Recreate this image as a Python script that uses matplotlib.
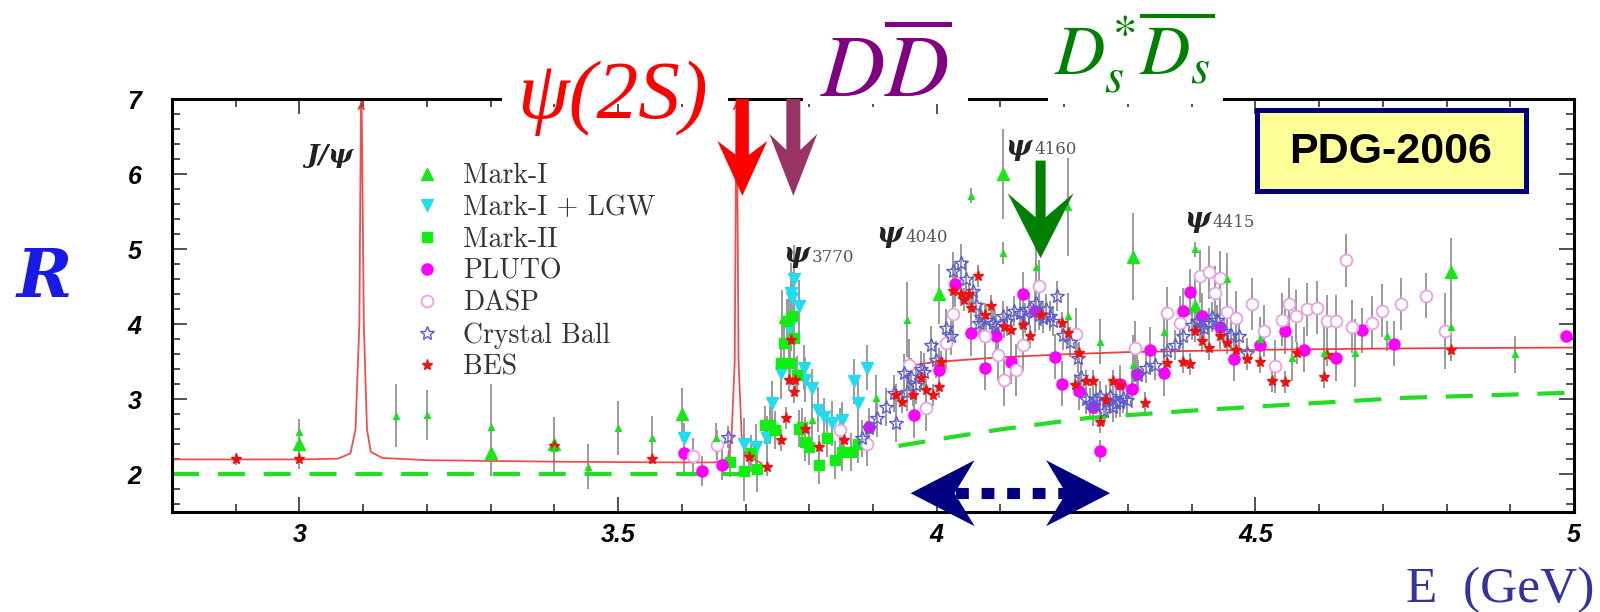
import matplotlib
matplotlib.use("Agg")
import matplotlib.pyplot as plt
from matplotlib.patches import Polygon, Rectangle
from matplotlib.lines import Line2D
from matplotlib.transforms import IdentityTransform
from matplotlib.ticker import MultipleLocator, FormatStrFormatter

plt.rcParams['mathtext.fontset'] = 'stix'

# ---- curves ----
bw_x = [2.80, 2.90, 3.00, 3.06, 3.08, 3.088, 3.094, 3.097, 3.101, 3.106, 3.112, 3.13, 3.20, 3.40,
        3.60, 3.650, 3.672, 3.678, 3.683, 3.686, 3.689, 3.694, 3.700, 3.725]
bw_y = [2.20, 2.20, 2.20, 2.21, 2.28, 2.60, 4.00, 7.50, 4.00, 2.60, 2.30, 2.22, 2.19, 2.17,
        2.16, 2.16, 2.20, 2.50, 3.50, 7.50, 3.50, 2.50, 2.25, 2.15]
cont_x = [3.95, 4.00, 4.10, 4.20, 4.30, 4.50, 4.75, 5.00]
cont_y = [3.44, 3.50, 3.56, 3.60, 3.63, 3.66, 3.68, 3.69]
qpm_x1 = [2.80, 3.72]
qpm_y1 = [2.00, 2.00]
qpm_x2 = [3.94, 4.025, 4.10, 4.235, 4.40, 4.592, 4.734, 5.00]
qpm_y2 = [2.38, 2.50, 2.60, 2.75, 2.85, 2.95, 3.02, 3.09]

# ---- data ----
mk1_x = [3.0, 3.3, 3.4, 3.6, 4.004, 4.104, 4.308, 4.406, 4.807]
mk1_y = [2.40, 2.28, 2.41, 2.80, 4.40, 6.00, 4.90, 4.25, 4.70]
mk1_e = [0.33, 0.30, 0.35, 0.35, 0.40, 0.60, 0.58, 0.35, 0.45]

oth_x = [3.0, 3.151, 3.2, 3.3, 3.4, 3.452, 3.5, 3.553, 3.653, 3.757, 3.805, 3.904, 3.954, 4.054,
         4.104, 4.156, 4.206, 4.206, 4.256, 4.308, 4.356, 4.406, 4.455, 4.508, 4.558, 4.607,
         4.656, 4.707, 4.807, 4.908]
oth_y = [2.56, 2.78, 2.79, 2.63, 2.35, 2.10, 2.62, 2.48, 2.48, 4.06, 2.72, 3.02, 4.06, 5.71,
         4.95, 4.76, 5.56, 4.11, 3.77, 3.46, 3.90, 5.00, 4.60, 3.80, 3.55, 3.62, 3.62, 3.85,
         3.96, 3.60]
oth_e = [0.18, 0.42, 0.33, 0.58, 0.35, 0.30, 0.36, 0.30, 0.20, 0.40, 0.30, 0.30, 0.50, 0.10,
         0.15, 0.30, 0.65, 0.30, 0.30, 0.40, 0.30, 0.10, 0.35, 0.30, 0.30, 0.40, 0.45, 0.20,
         0.45, 0.25]

lgw_x = [3.603, 3.697, 3.716, 3.734, 3.742, 3.755, 3.768, 3.771, 3.773, 3.776, 3.784, 3.792,
         3.794, 3.805, 3.813, 3.823, 3.836, 3.852, 3.870, 3.876, 3.891]
lgw_y = [2.48, 2.40, 2.37, 2.48, 2.95, 3.35, 3.95, 4.42, 4.35, 4.60, 4.24, 3.42, 3.26, 3.15,
         2.86, 2.77, 2.68, 2.72, 3.24, 2.95, 3.42]
lgw_e = [0.20, 0.35, 0.30, 0.30, 0.30, 0.35, 0.40, 0.40, 0.35, 0.45, 0.35, 0.30, 0.30, 0.25,
         0.30, 0.25, 0.30, 0.25, 0.30, 0.30, 0.30]

mk2_x = [3.676, 3.697, 3.708, 3.718, 3.731, 3.739, 3.747, 3.755, 3.760, 3.765, 3.770, 3.773,
         3.776, 3.781, 3.784, 3.789, 3.794, 3.799, 3.815, 3.828, 3.841, 3.852, 3.865, 3.876]
mk2_y = [2.17, 2.04, 2.28, 2.07, 2.66, 2.66, 2.59, 3.48, 3.75, 4.04, 3.48, 4.11, 3.82, 3.33,
         2.61, 2.63, 2.43, 2.37, 2.12, 2.48, 2.19, 2.30, 2.30, 2.40]
mk2_e = [0.20, 0.40, 0.25, 0.30, 0.25, 0.25, 0.25, 0.30, 0.30, 0.30, 0.30, 0.30, 0.30, 0.25,
         0.25, 0.25, 0.25, 0.25, 0.25, 0.25, 0.25, 0.25, 0.25, 0.25]

plu_x = [3.603, 3.631, 3.663, 3.894, 3.965, 4.004, 4.028, 4.054, 4.075, 4.093, 4.117, 4.135,
         4.154, 4.185, 4.196, 4.224, 4.245, 4.256, 4.287, 4.306, 4.314, 4.335, 4.356, 4.386,
         4.397, 4.416, 4.445, 4.467, 4.507, 4.546, 4.577, 4.627, 4.667, 4.718, 4.988]
plu_y = [2.28, 2.05, 2.12, 2.63, 2.79, 3.39, 4.53, 3.88, 3.42, 3.84, 3.50, 4.40, 4.18, 3.57,
         3.21, 3.11, 2.90, 2.31, 3.21, 3.14, 3.34, 3.66, 3.35, 4.18, 4.43, 4.11, 3.97, 3.54,
         3.73, 3.91, 3.66, 3.55, 3.92, 3.74, 3.85]
plu_e = [0.25, 0.20, 0.20, 0.25, 0.30, 0.30, 0.30, 0.30, 0.30, 0.30, 0.30, 0.30, 0.30, 0.30,
         0.30, 0.25, 0.25, 0.15, 0.25, 0.25, 0.25, 0.30, 0.30, 0.30, 0.30, 0.30, 0.30, 0.30,
         0.30, 0.30, 0.30, 0.30, 0.30, 0.30, 0.05]

das_x = [3.617, 3.655, 3.849, 3.891, 3.957, 3.983, 4.015, 4.025, 4.075, 4.096, 4.106, 4.125,
         4.135, 4.161, 4.219, 4.311, 4.361, 4.382, 4.413, 4.427, 4.437, 4.445, 4.455, 4.469,
         4.495, 4.513, 4.531, 4.542, 4.553, 4.563, 4.581, 4.597, 4.613, 4.627, 4.642, 4.652,
         4.683, 4.698, 4.728, 4.768, 4.798]
das_y = [2.24, 2.39, 2.59, 2.41, 3.46, 2.88, 3.75, 4.14, 3.84, 3.59, 3.26, 3.39, 3.73, 4.51,
         3.87, 3.69, 4.15, 4.02, 4.64, 4.69, 4.42, 4.62, 4.17, 4.09, 4.27, 3.91, 3.44, 4.06,
         4.27, 4.11, 4.20, 4.22, 4.04, 4.04, 4.85, 3.97, 4.02, 4.18, 4.27, 4.38, 3.91]
das_e = [0.25, 0.20, 0.30, 0.30, 0.35, 0.30, 0.35, 0.35, 0.35, 0.35, 0.35, 0.35, 0.35, 0.35,
         0.35, 0.35, 0.35, 0.35, 0.35, 0.35, 0.35, 0.35, 0.35, 0.35, 0.35, 0.35, 0.35, 0.35,
         0.35, 0.35, 0.35, 0.35, 0.35, 0.35, 0.35, 0.35, 0.35, 0.35, 0.35, 0.30, 0.50]

cb_x = [3.673, 3.883, 3.894, 3.907, 3.920, 3.933, 3.936, 3.949, 3.954, 3.960, 3.967, 3.975,
        3.980, 3.991, 3.999, 4.015, 4.023, 4.025, 4.038, 4.046, 4.057, 4.062, 4.067, 4.070,
        4.077, 4.088, 4.092, 4.104, 4.110, 4.122, 4.130, 4.138, 4.145, 4.156, 4.160, 4.167,
        4.172, 4.177, 4.182, 4.188, 4.198, 4.209, 4.222, 4.227, 4.235, 4.240, 4.245, 4.250,
        4.256, 4.262, 4.266, 4.272, 4.277, 4.282, 4.287, 4.293, 4.298, 4.316, 4.329, 4.343,
        4.361, 4.374, 4.387, 4.400, 4.408, 4.413, 4.420, 4.427, 4.432, 4.440, 4.450, 4.461,
        4.474, 4.487]
cb_y = [2.50, 2.48, 2.62, 2.75, 2.90, 3.08, 2.68, 3.35, 3.10, 3.30, 3.19, 3.40, 3.37, 3.73,
        3.53, 3.95, 3.84, 4.71, 4.82, 4.60, 4.44, 4.26, 4.02, 4.10, 4.06, 4.02, 3.98, 4.11,
        4.05, 4.18, 4.15, 4.09, 4.20, 4.29, 4.12, 4.09, 4.20, 4.11, 4.05, 4.38, 3.86, 3.77,
        3.55, 3.30, 3.01, 2.95, 2.92, 3.00, 3.04, 2.85, 2.99, 3.05, 2.90, 2.95, 2.97, 3.02,
        2.99, 3.33, 3.42, 3.46, 3.64, 3.73, 3.84, 3.99, 4.05, 3.97, 3.95, 4.02, 4.10, 4.06,
        3.91, 3.86, 3.84, 3.62]
cb_e = [0.15, 0.25, 0.25, 0.25, 0.25, 0.25, 0.25, 0.25, 0.25, 0.25, 0.25, 0.25, 0.25, 0.25,
        0.25, 0.25, 0.25, 0.25, 0.25, 0.25, 0.20, 0.20, 0.20, 0.20, 0.20, 0.20, 0.20, 0.20,
        0.20, 0.20, 0.20, 0.20, 0.20, 0.20, 0.20, 0.20, 0.20, 0.20, 0.20, 0.20, 0.20, 0.20,
        0.20, 0.20, 0.20, 0.20, 0.20, 0.20, 0.20, 0.20, 0.20, 0.20, 0.20, 0.20, 0.20, 0.20,
        0.20, 0.20, 0.20, 0.20, 0.20, 0.20, 0.20, 0.20, 0.20, 0.20, 0.20, 0.20, 0.20, 0.20,
        0.20, 0.20, 0.20, 0.20]

bes_x = [2.9, 3.0, 3.4, 3.553, 3.706, 3.733, 3.755, 3.763, 3.768, 3.771, 3.776, 3.778, 3.794,
         3.815, 3.855, 3.936, 3.946, 3.962, 3.975, 3.983, 3.994, 4.004, 4.007, 4.025, 4.038,
         4.043, 4.050, 4.054, 4.064, 4.075, 4.085, 4.106, 4.117, 4.135, 4.146, 4.164, 4.196,
         4.206, 4.217, 4.224, 4.235, 4.245, 4.256, 4.266, 4.277, 4.287, 4.327, 4.361, 4.387,
         4.398, 4.406, 4.416, 4.427, 4.445, 4.455, 4.469, 4.487, 4.507, 4.526, 4.546, 4.566,
         4.607, 4.612, 4.807]
bes_y = [2.20, 2.20, 2.38, 2.20, 2.23, 2.10, 2.46, 2.75, 3.26, 3.79, 3.10, 3.26, 2.61, 2.37,
         2.46, 3.06, 2.97, 3.06, 3.28, 3.12, 3.06, 3.17, 3.50, 4.44, 4.40, 4.33, 4.40, 4.22,
         4.64, 4.13, 4.24, 3.97, 3.93, 3.99, 3.84, 4.13, 4.02, 3.88, 3.19, 3.62, 3.24, 3.24,
         2.70, 2.99, 3.24, 3.19, 2.95, 3.48, 3.50, 3.47, 3.91, 3.78, 3.68, 3.84, 3.75, 3.66,
         3.54, 3.50, 3.25, 3.23, 3.62, 3.30, 3.59, 3.66]
bes_e = [0.08, 0.06, 0.10, 0.06, 0.12, 0.12, 0.15, 0.15, 0.15, 0.15, 0.15, 0.15, 0.15, 0.15,
         0.15, 0.15, 0.15, 0.15, 0.15, 0.15, 0.15, 0.15, 0.15, 0.15, 0.15, 0.15, 0.15, 0.15,
         0.15, 0.15, 0.15, 0.15, 0.15, 0.15, 0.15, 0.15, 0.15, 0.15, 0.15, 0.15, 0.15, 0.15,
         0.15, 0.15, 0.15, 0.15, 0.15, 0.15, 0.15, 0.15, 0.15, 0.15, 0.15, 0.15, 0.15, 0.15,
         0.15, 0.15, 0.15, 0.15, 0.15, 0.15, 0.15, 0.15]

res_names = ['3770', '4040', '4160', '4415']
res_x = [3.759, 3.905, 4.108, 4.388]
res_y = [4.93, 5.19, 6.36, 5.39]

xticks = [3, 3.5, 4, 4.5, 5]
yticks = [2, 3, 4, 5, 6, 7]

fig = plt.figure(figsize=(16, 6.12), dpi=100)
ax = fig.add_axes([0.1075, 0.1634, 0.87625, 0.6748])
ax.set_xlim(2.8, 5.0)
ax.set_ylim(1.5, 7.0)

ax.plot(bw_x, bw_y, color='#ee5050', lw=1.3, zorder=2)
ax.plot(cont_x, cont_y, color='#ee4040', lw=1.3, zorder=2)
for xs, ys in [(qpm_x1, qpm_y1), (qpm_x2, qpm_y2)]:
    ax.plot(xs, ys, color='#22dd22', lw=3, dashes=(6.5, 4.5), zorder=2)
for xp in [3.097, 3.686]:
    ax.annotate('', xy=(xp, 7.0), xytext=(xp, 6.85),
                arrowprops=dict(arrowstyle='->', color='#dd3030', lw=1.2), zorder=2)

series = [
    (mk1_x, mk1_y, mk1_e, dict(marker='^', color='#19e619', ms=8), 'Mark-I'),
    (lgw_x, lgw_y, lgw_e, dict(marker='v', color='#22dcee', ms=8), 'Mark-I + LGW'),
    (mk2_x, mk2_y, mk2_e, dict(marker='s', color='#11ee11', ms=7), 'Mark-II'),
    (plu_x, plu_y, plu_e, dict(marker='o', color='#ff00ff', ms=8), 'PLUTO'),
    (das_x, das_y, das_e, dict(marker='o', mfc='white', mec='#eaa0ea', mew=1.3, ms=8.5), 'DASP'),
    (cb_x, cb_y, cb_e, dict(marker='*', mfc='none', mec='#5a5ad8', mew=1.0, ms=10), 'Crystal Ball'),
    (bes_x, bes_y, bes_e, dict(marker='*', color='#ee1111', ms=8), 'BES'),
]
handles, labels = [], []
for xs, ys, es, st, name in series:
    ax.errorbar(xs, ys, yerr=es, fmt='none', ecolor='#9a9a9a', elinewidth=1.4, zorder=1)
    ax.plot(xs, ys, linestyle='none', zorder=3, **st)
    handles.append(Line2D([], [], linestyle='none', **st))
    labels.append(name)
ax.errorbar(oth_x, oth_y, yerr=oth_e, fmt='none', ecolor='#9a9a9a', elinewidth=1.4, zorder=1)
ax.plot(oth_x, oth_y, linestyle='none', marker='^', color='#22dd22', ms=4, zorder=3)

leg = ax.legend(handles, labels, loc='upper left', bbox_to_anchor=(413 / 1600, 1 - 163 / 612),
                bbox_transform=fig.transFigure, frameon=False,
                prop=dict(family=['cmr10', 'DejaVu Serif'], size=20),
                handlelength=1.0, handletextpad=0.8, labelspacing=0.2,
                borderpad=0, borderaxespad=0)
for t in leg.get_texts():
    t.set_color('#333333')

# axes styling
for sp in ax.spines.values():
    sp.set_linewidth(2.2)
ax.set_xticks(xticks)
ax.set_yticks(yticks)
ax.xaxis.set_minor_locator(MultipleLocator(0.1))
ax.yaxis.set_minor_locator(MultipleLocator(0.2))
ax.xaxis.set_major_formatter(FormatStrFormatter('%g'))
ax.yaxis.set_major_formatter(FormatStrFormatter('%g'))
ax.tick_params(which='both', direction='in', top=True, right=True, width=1.2, color='#333333')
ax.tick_params(which='major', length=11)
ax.tick_params(which='minor', length=6)
ax.tick_params(axis='x', pad=8)
ax.tick_params(axis='y', pad=22)
for lab in ax.get_xticklabels() + ax.get_yticklabels():
    lab.set_fontfamily('Liberation Sans')
    lab.set_fontweight('bold')
    lab.set_fontstyle('italic')
    lab.set_fontsize(18)

# resonance labels
ax.text(3.085, 6.25, 'J/ψ', ha='right', va='center', fontsize=19, fontweight='bold',
        fontstyle='italic', family='DejaVu Serif', color='#222222')
for nm, rx, ry in zip(res_names, res_x, res_y):
    t = ax.text(rx, ry, 'ψ', ha='left', va='center', fontsize=20, fontweight='bold',
                fontstyle='italic', family='DejaVu Serif', color='#222222', zorder=4)
    ax.annotate(nm, xy=(1.0, 0.08), xycoords=t, xytext=(2, 0), textcoords='offset points',
                ha='left', va='bottom', fontsize=12, family='DejaVu Serif', color='#555555')


def down_arrow(x, y_top, y_tip, shaft_w, head_w, head_len, notch, color):
    xt, yt = ax.transData.transform((x, y_tip))
    _, ytop = ax.transData.transform((x, y_top))
    s, h = shaft_w / 2, head_w / 2
    pts = [(xt - s, ytop), (xt - s, yt + head_len - notch), (xt - h, yt + head_len), (xt, yt),
           (xt + h, yt + head_len), (xt + s, yt + head_len - notch), (xt + s, ytop)]
    fig.add_artist(Polygon(pts, closed=True, facecolor=color, edgecolor='none',
                           transform=IdentityTransform(), zorder=6))


down_arrow(3.695, 7.0, 5.71, 13, 50, 55, 14, '#ff0000')
down_arrow(3.775, 7.0, 5.71, 14, 48, 62, 16, '#993366')
down_arrow(4.163, 6.18, 4.88, 10, 66, 65, 24, '#008000')

# double arrow
xa, yc = ax.transData.transform((3.959, 1.75))
xb, _ = ax.transData.transform((4.272, 1.75))
L, H, N = 64, 33, 20
for tip, sgn in [(xa, 1), (xb, -1)]:
    pts = [(tip, yc), (tip + sgn * L, yc + H), (tip + sgn * (L - N), yc), (tip + sgn * L, yc - H)]
    fig.add_artist(Polygon(pts, closed=True, facecolor='#000080', edgecolor='none',
                           transform=IdentityTransform(), zorder=6))
ax.plot([3.99, 4.24], [1.75, 1.75], color='#000080', lw=8, dashes=(1.15, 1.15),
        dash_capstyle='butt', zorder=6)

# gaps in the top frame under the labels
for x0, x1 in [(502, 728), (803, 968), (1048, 1223)]:
    fig.add_artist(Rectangle((x0 / 1600, 1 - 104 / 612), (x1 - x0) / 1600, 104 / 612,
                             facecolor='white', edgecolor='none', transform=fig.transFigure,
                             zorder=4))

fig.text(612 / 1600, 1 - 118 / 612, 'ψ(2S)', ha='center', va='baseline', fontsize=60,
         family='Liberation Serif', fontstyle='italic', color='#ff0000', zorder=7)
fig.text(886 / 1600, 1 - 97 / 612, r'$D\overline{D}$', ha='center', va='baseline',
         fontsize=64, color='#800080', zorder=7)
fig.text(1134 / 1600, 1 - 75 / 612, r'$D_s^{*}\overline{D_s}$', ha='center', va='baseline',
         fontsize=50, color='#008000', zorder=7)

# PDG box
fig.add_artist(Rectangle((1257 / 1600, 1 - 191 / 612), 269 / 1600, 81 / 612,
                         facecolor='#ffff99', edgecolor='#00007f', lw=3.6,
                         transform=fig.transFigure, zorder=7))
fig.text(1391 / 1600, 1 - 152 / 612, 'PDG-2006', ha='center', va='center', fontsize=31,
         fontweight='bold', family='Liberation Sans', color='black', zorder=8)

fig.text(44 / 1600, 1 - 279 / 612, 'R', ha='center', va='center', fontsize=48,
         fontweight='bold', fontstyle='italic', family='DejaVu Serif', color='#1a1ae6')
fig.text(1594 / 1600, 1 - 602 / 612, 'E  (GeV)', ha='right', va='baseline', fontsize=37,
         family='Liberation Serif', color='#33339a')

fig.savefig('out.png', dpi=100)
